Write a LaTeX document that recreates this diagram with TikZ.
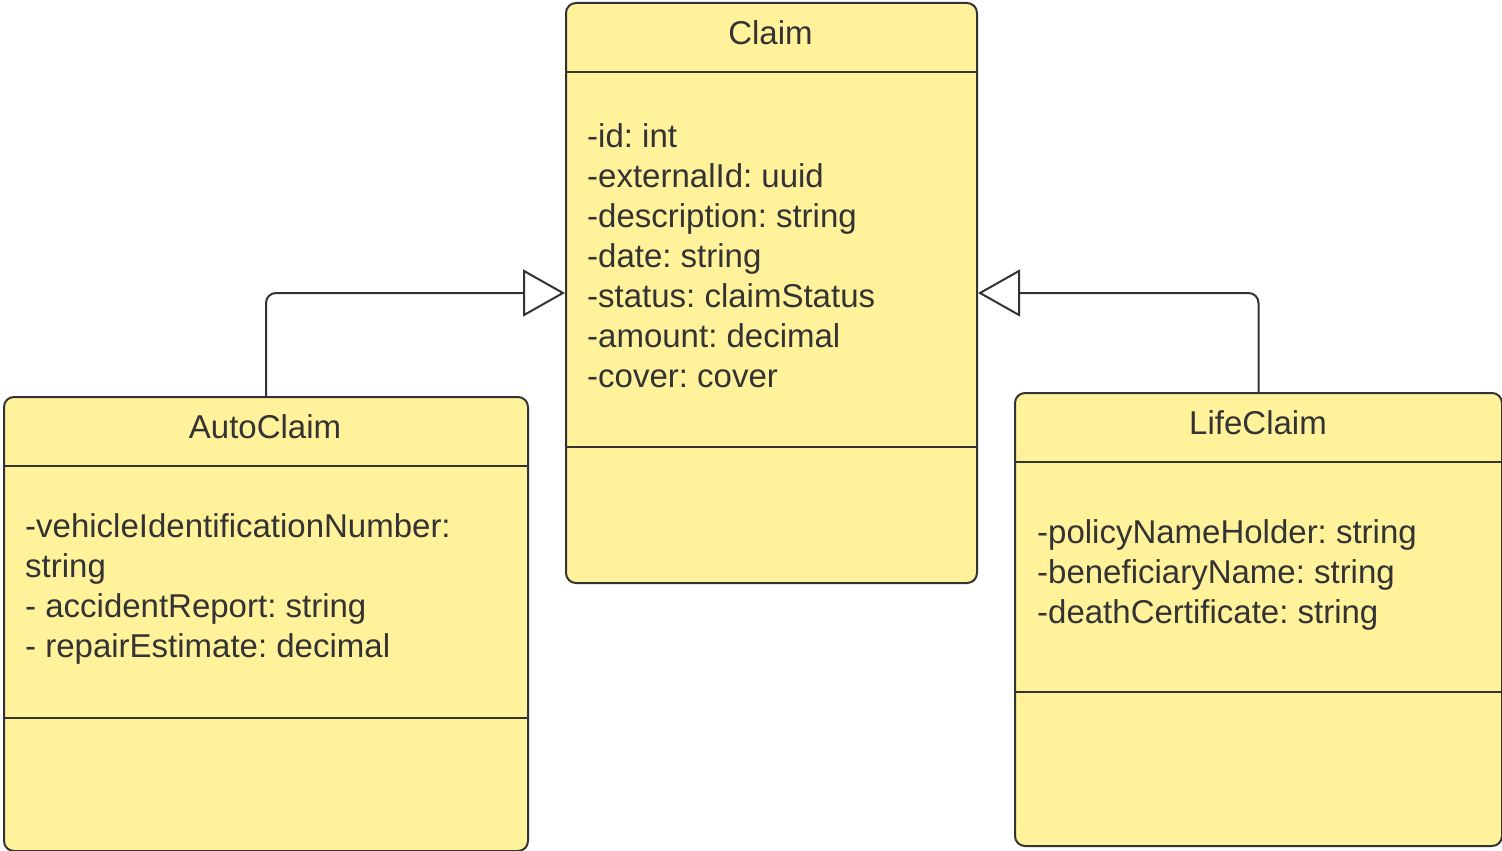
\documentclass[tikz,border=0pt]{standalone}
\usepackage{fontspec}
\setmainfont{Liberation Sans}
\usetikzlibrary{arrows.meta}
\definecolor{boxfill}{HTML}{FFF29B}
\definecolor{ink}{HTML}{333333}
\tikzset{
  classbox/.style={draw=ink, fill=boxfill, line width=2pt, rounded corners=10pt, inner sep=0pt, anchor=north west},
  sep/.style={draw=ink, line width=2pt},
  title/.style={text=ink, font=\fontsize{33}{40}\selectfont\frenchspacing, inner sep=0pt},
  attrs/.style={text=ink, font=\fontsize{33}{40}\selectfont\frenchspacing, inner sep=0pt, align=left, anchor=west},
  inherit/.style={draw=ink, line width=2pt, rounded corners=10pt, -{Triangle[open, length=42pt, width=47pt, fill=white]}},
}
\begin{document}
\begin{tikzpicture}[x=1pt, y=-1pt]
\useasboundingbox (0,0) rectangle (1502,851);
% Claim
\node[classbox, minimum width=411pt, minimum height=580pt] (claim) at (565,2) {};
\coordinate (c1) at (565,72); \coordinate (c1e) at (976,72);
\coordinate (c2) at (565,447); \coordinate (c2e) at (976,447);
\draw[sep] (c1) -- (c1e); \draw[sep] (c2) -- (c2e);
\node[title] (claimT) at (770.5,33) {Claim};
\node[attrs] (claimA) at (587,256) {-id: int\\-externalId: uuid\\-description: string\\-date: string\\-status: claimStatus\\-amount: decimal\\-cover: cover};
% AutoClaim
\node[classbox, minimum width=524pt, minimum height=454pt] (auto) at (3,396) {};
\coordinate (a1) at (3,466); \coordinate (a1e) at (527,466);
\coordinate (a2) at (3,718); \coordinate (a2e) at (527,718);
\draw[sep] (a1) -- (a1e); \draw[sep] (a2) -- (a2e);
\node[title] (autoT) at (265,427) {AutoClaim};
\node[attrs] (autoA) at (25,589) {-vehicleIdentificationNumber:\\string\\- accidentReport: string\\- repairEstimate: decimal};
% LifeClaim
\node[classbox, minimum width=487pt, minimum height=453pt] (life) at (1014,392) {};
\coordinate (l1) at (1014,462); \coordinate (l1e) at (1501,462);
\coordinate (l2) at (1014,692); \coordinate (l2e) at (1501,692);
\draw[sep] (l1) -- (l1e); \draw[sep] (l2) -- (l2e);
\node[title] (lifeT) at (1258,423) {LifeClaim};
\node[attrs] (lifeA) at (1037,575) {-policyNameHolder: string\\-beneficiaryName: string\\-deathCertificate: string};
% generalizations
\draw[inherit] (auto.north) |- (claim.west);
\draw[inherit] (life.north) |- (claim.east);
\end{tikzpicture}
\end{document}
